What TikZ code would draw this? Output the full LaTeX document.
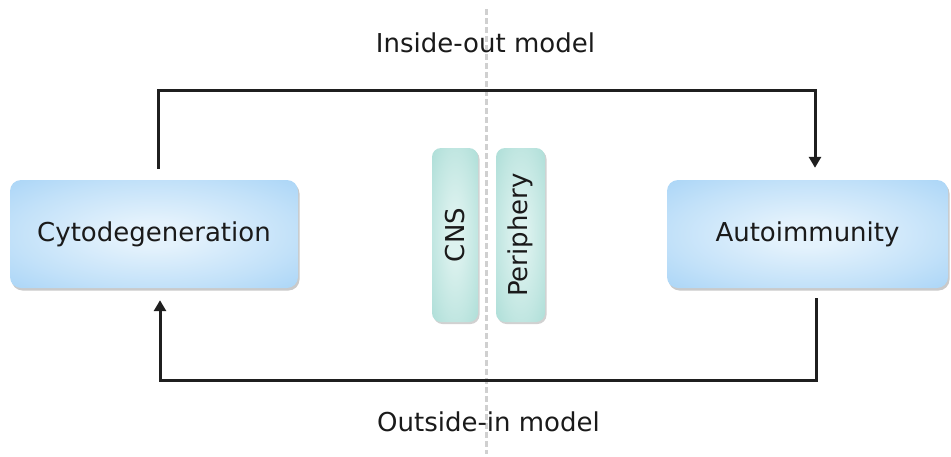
\documentclass[tikz,border=0pt]{standalone}
\usepackage{fontspec}
\setmainfont{DejaVu Sans}
\usetikzlibrary{shadows,arrows.meta}
\definecolor{bluein}{HTML}{E4F2FC}
\definecolor{blueout}{HTML}{A2D1F6}
\definecolor{tealin}{HTML}{DDF2EF}
\definecolor{tealout}{HTML}{A6DBD4}
\definecolor{dashgray}{HTML}{D0D0D0}
\definecolor{txt}{HTML}{1A1A1A}
\pgfdeclareradialshading{blueshade}{\pgfpoint{0bp}{0bp}}{%
  color(0bp)=(bluein); color(6bp)=(bluein); color(24bp)=(bluein!50!blueout);
  color(40bp)=(blueout); color(100bp)=(blueout)}
\pgfdeclareradialshading{tealshade}{\pgfpoint{0bp}{0bp}}{%
  color(0bp)=(tealin); color(6bp)=(tealin); color(24bp)=(tealin!50!tealout);
  color(40bp)=(tealout); color(100bp)=(tealout)}
\tikzset{
  bigbox/.style={rounded corners=11pt, shading=blueshade,
    minimum width=288pt, minimum height=108pt, inner sep=0pt,
    font=\fontsize{26}{30}\selectfont, text=txt,
    drop shadow={shadow xshift=1.5pt, shadow yshift=-2.5pt, opacity=0.35, fill=black!60}},
  pillbox/.style={rounded corners=9pt, shading=tealshade,
    minimum width=174pt, minimum height=46pt, inner sep=0pt, rotate=90,
    font=\fontsize{26}{30}\selectfont, text=txt,
    drop shadow={shadow xshift=1.5pt, shadow yshift=-2pt, opacity=0.3, fill=black!60}},
  label/.style={font=\fontsize{26}{30}\selectfont, text=txt, inner sep=0pt},
  conn/.style={line width=3pt, black!88, -{Triangle[length=11pt,width=12pt]}},
  divider/.style={dashgray, line width=3pt, dash pattern=on 6pt off 3pt},
}
\begin{document}
\begin{tikzpicture}[x=1pt,y=-1pt]
\useasboundingbox (0,0) rectangle (951,456);
\coordinate (dtop) at (486,9);
\coordinate (dbot) at (486,454);
\draw[divider] (dtop) -- (dbot);
\node[bigbox] (cyto) at (154,234) {Cytodegeneration};
\node[bigbox, minimum width=281pt] (auto) at (807.5,234) {Autoimmunity};
\node[pillbox] (cns) at (455,235) {CNS};
\node[pillbox, minimum height=49pt] (peri) at (520.5,235) {Periphery};
\node[label] (inside) at (485.5,43) {Inside-out model};
\node[label] (outside) at (488.5,422) {Outside-in model};
\coordinate (top) at (486,90);
\coordinate (bot) at (486,380);
\draw[conn] ([xshift=4pt,yshift=11pt]cyto.north) |- (top) -| ([xshift=7.5pt,yshift=12pt]auto.north);
\draw[conn] ([xshift=8.5pt,yshift=-10pt]auto.south) |- (bot) -| ([xshift=6pt,yshift=-12pt]cyto.south);
\end{tikzpicture}
\end{document}
